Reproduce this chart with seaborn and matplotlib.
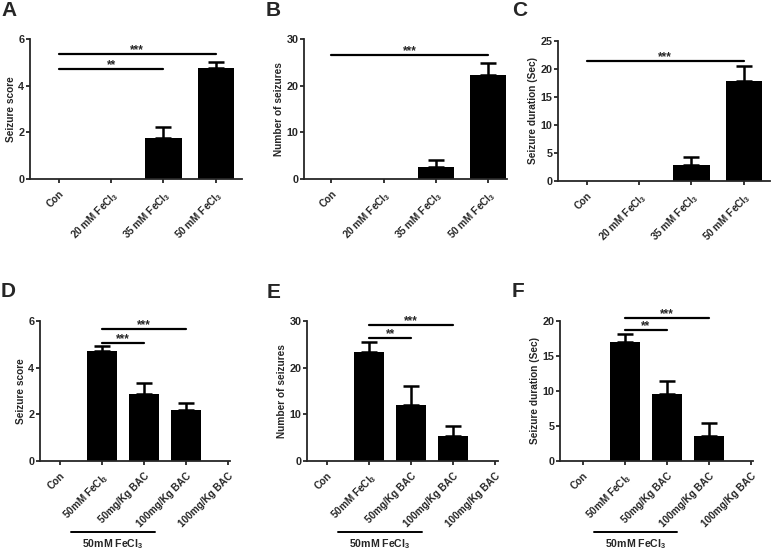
import numpy as np
import pandas as pd
import seaborn as sns
from matplotlib import pyplot as plt

# ---- data ----
top_labels = ["Con", "20 mM FeCl$_3$", "35 mM FeCl$_3$", "50 mM FeCl$_3$"]
bot_labels = ["Con", "50mM FeCl$_3$", "50mg/Kg BAC", "100mg/Kg BAC", "100mg/Kg BAC"]

score_a = [0, 0, 1.77, 4.77]
score_a_err = [0, 0, 0.47, 0.25]
num_b = [0, 0, 2.64, 22.36]
num_b_err = [0, 0, 1.43, 2.54]
dur_c = [0, 0, 2.92, 17.8]
dur_c_err = [0, 0, 1.38, 2.7]

score_d = [0, 4.71, 2.86, 2.2, 0]
score_d_err = [0, 0.2, 0.48, 0.29, 0]
num_e = [0, 23.4, 12.0, 5.3, 0]
num_e_err = [0, 2.0, 4.1, 2.1, 0]
dur_f = [0, 17.05, 9.55, 3.6, 0]
dur_f_err = [0, 1.05, 1.95, 1.86, 0]

# significance brackets: (from, to, height, stars)
sig_a = [(0, 3, 5.36, "***"), (0, 2, 4.7, "**")]
sig_b = [(0, 3, 26.6, "***")]
sig_c = [(0, 3, 21.5, "***")]
sig_d = [(1, 2, 5.06, "***"), (1, 3, 5.64, "***")]
sig_e = [(1, 2, 26.4, "**"), (1, 3, 29.1, "***")]
sig_f = [(1, 2, 18.7, "**"), (1, 3, 20.4, "***")]

sns.set_style("ticks")
plt.rcParams["font.family"] = ["Liberation Sans", "DejaVu Sans"]
plt.rcParams["font.weight"] = "bold"
plt.rcParams["mathtext.fontset"] = "custom"
plt.rcParams["mathtext.rm"] = "Liberation Sans:bold"
plt.rcParams["mathtext.default"] = "rm"

W, H = 772, 558
fig = plt.figure(figsize=(W / 100, H / 100), dpi=100)


def make_ax(left, right, top, bottom):
    return fig.add_axes([left / W, 1 - bottom / H, (right - left) / W, (bottom - top) / H])


def panel(ax, labels, vals, errs, sigs, yticks, ylabel, xlim, letter, lx, ly, bracket=False):
    df = pd.DataFrame({"group": [str(i) for i in range(len(labels))], "value": vals})
    sns.barplot(data=df, x="group", y="value", color="black", width=0.7,
                errorbar=None, ax=ax, saturation=1, linewidth=0)
    for i, (v, e) in enumerate(zip(vals, errs)):
        if e > 0:
            ax.errorbar(i, v + e / 2, yerr=e / 2, fmt="none", ecolor="black",
                        elinewidth=1.8, capsize=6, capthick=1.8)
    for a, b, h, s in sigs:
        ax.plot([a, b], [h, h], color="black", lw=1.6, clip_on=False)
        ax.annotate(s, ((a + b) / 2, h), xytext=(0, 0.6), textcoords="offset points",
                    ha="center", va="baseline", fontsize=8.5, fontweight="bold",
                    annotation_clip=False)
    ax.set_xlim(*xlim)
    ax.set_ylim(0, yticks[-1])
    ax.set_yticks(yticks)
    ax.set_xticks(range(len(labels)))
    ax.set_xticklabels(labels, rotation=45, ha="right", rotation_mode="anchor",
                       fontsize=7.2, fontweight="bold")
    ax.tick_params(axis="y", labelsize=7.8, width=1.3, length=3, pad=1)
    ax.tick_params(axis="x", width=1.3, length=3, pad=4)
    for t in ax.get_yticklabels():
        t.set_fontweight("bold")
    ax.set_xlabel("")
    ax.set_ylabel(ylabel, fontsize=7.3, fontweight="bold", labelpad=1.5)
    sns.despine(ax=ax)
    for sp in ["left", "bottom"]:
        ax.spines[sp].set_linewidth(1.3)
    fig.text(lx / W, 1 - ly / H, letter, fontsize=15, fontweight="bold",
             ha="left", va="top")
    if bracket:
        tr = ax.get_xaxis_transform()
        ax.plot([0.25, 2.25], [-0.507, -0.507], color="black", lw=1.4,
                transform=tr, clip_on=False)
        ax.text(1.25, -0.545, "50mM FeCl$_3$", transform=tr, ha="center", va="top",
                fontsize=7.6, fontweight="bold")


axA = make_ax(30, 242, 39, 179)
panel(axA, top_labels, score_a, score_a_err, sig_a, [0, 2, 4, 6], "Seizure score",
      (-0.55, 3.5), "A", 1, 1)
axB = make_ax(304, 507, 39, 179)
panel(axB, top_labels, num_b, num_b_err, sig_b, [0, 10, 20, 30], "Number of seizures",
      (-0.52, 3.36), "B", 266, 1)
axC = make_ax(558, 770, 41, 181)
panel(axC, top_labels, dur_c, dur_c_err, sig_c, [0, 5, 10, 15, 20, 25],
      "Seizure duration (Sec)", (-0.55, 3.5), "C", 512, 1)

axD = make_ax(40, 230, 321, 461)
panel(axD, bot_labels, score_d, score_d_err, sig_d, [0, 2, 4, 6], "Seizure score",
      (-0.48, 4.05), "D", 1, 282, bracket=True)
axE = make_ax(307, 498, 321, 461)
panel(axE, bot_labels, num_e, num_e_err, sig_e, [0, 10, 20, 30], "Number of seizures",
      (-0.48, 4.07), "E", 267, 283, bracket=True)
axF = make_ax(560, 753, 321, 461)
panel(axF, bot_labels, dur_f, dur_f_err, sig_f, [0, 5, 10, 15, 20],
      "Seizure duration (Sec)", (-0.55, 4.05), "F", 512, 282, bracket=True)

fig.savefig("out.png", dpi=100, facecolor="white")
